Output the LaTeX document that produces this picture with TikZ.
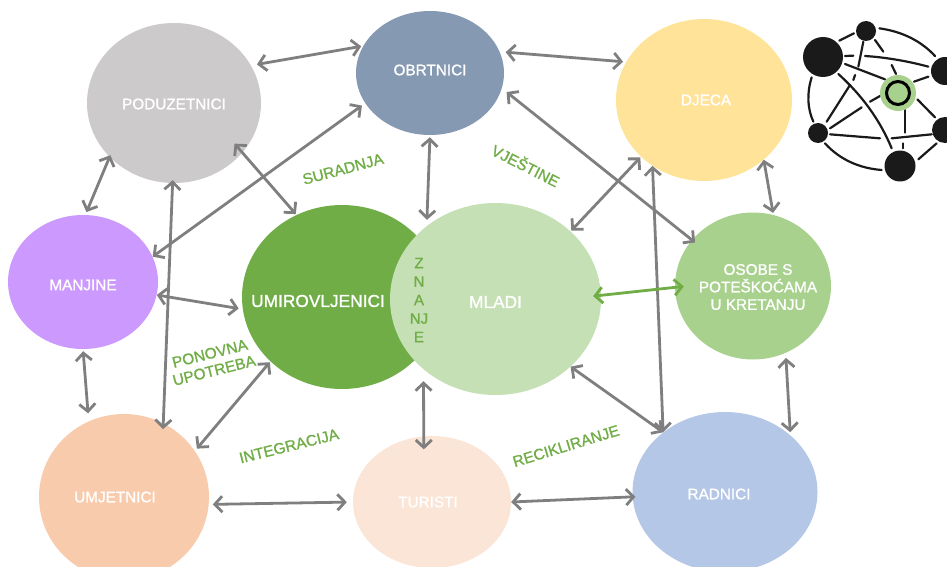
\documentclass[tikz,border=0pt]{standalone}
\usepackage{fontspec}
\setmainfont{Liberation Sans}
\newfontfamily\boxfont[FakeBold=1.2]{Liberation Sans}
\usetikzlibrary{shapes.geometric,arrows.meta}

\definecolor{linkgray}{HTML}{7F7F7F}
\definecolor{labelgreen}{HTML}{70AD47}
\definecolor{icondark}{HTML}{1A1A1A}

\tikzset{
  bubble/.style={ellipse, inner sep=0pt},
  biglabel/.style={text=white, font=\boxfont\fontsize{17.3}{20}\selectfont},
  smalllabel/.style={text=white, font=\boxfont\fontsize{15.3}{17.5}\selectfont, align=center},
  link/.style={<->, >={Straight Barb[length=7.5pt,width=16pt]}, draw=linkgray, line width=2.8pt, shorten <=2pt, shorten >=2pt},
  theme/.style={text=labelgreen, font=\boxfont\fontsize{15.4}{17.5}\selectfont, align=center, inner sep=0pt},
  iconline/.style={draw=icondark, line width=2.2pt, line cap=round},
  icondot/.style={circle, fill=icondark, inner sep=0pt}
}

\begin{document}
\begin{tikzpicture}[x=1pt, y=-1pt]
  \useasboundingbox (0, 0) rectangle (947, 567);

  % the people
  \node [bubble, fill={rgb,255:red,204;green,202;blue,203}, minimum width=174pt, minimum height=160pt, label={[smalllabel, yshift=-1pt]center:PODUZETNICI}] (poduzetnici) at (174, 103) {};
  \node [bubble, fill={rgb,255:red,133;green,153;blue,178}, minimum width=148pt, minimum height=124pt, label={[smalllabel, yshift=3pt]center:OBRTNICI}] (obrtnici) at (430, 73) {};
  \node [bubble, fill={rgb,255:red,255;green,227;blue,153}, minimum width=176pt, minimum height=162pt, label={[smalllabel, xshift=2pt]center:DJECA}] (djeca) at (704, 100) {};
  \node [bubble, fill={rgb,255:red,204;green,153;blue,255}, minimum width=150pt, minimum height=134pt, label={[smalllabel, yshift=-3pt]center:MANJINE}] (manjine) at (83, 282) {};
  \node [bubble, fill=labelgreen, minimum width=200pt, minimum height=184pt, label={[biglabel, xshift=-24pt, yshift=-4pt]center:UMIROVLJENICI}] (umirovljenici) at (342, 297) {};
  \node [bubble, fill={rgb,255:red,197;green,224;blue,180}, minimum width=211pt, minimum height=192pt, label={[biglabel, yshift=-3pt]center:MLADI}] (mladi) at (495.5, 299) {};
  \node [bubble, fill={rgb,255:red,169;green,209;blue,142}, minimum width=156pt, minimum height=147pt, label={[smalllabel, xshift=5pt, yshift=-1pt]center:OSOBE S\\POTEŠKOĆAMA\\U KRETANJU}] (osobe) at (753, 286) {};
  \node [bubble, fill={rgb,255:red,248;green,203;blue,173}, minimum width=170pt, minimum height=166pt, label={[smalllabel, xshift=-9pt]center:UMJETNICI}] (umjetnici) at (124, 497) {};
  \node [bubble, fill={rgb,255:red,251;green,229;blue,214}, minimum width=158pt, minimum height=132pt, label={[smalllabel, xshift=-4pt]center:TURISTI}] (turisti) at (432, 502) {};
  \node [bubble, fill={rgb,255:red,180;green,199;blue,231}, minimum width=185pt, minimum height=160pt, label={[smalllabel, xshift=-6pt, yshift=-2pt]center:RADNICI}] (radnici) at (725, 492) {};

  % what they share
  \node [theme, rotate=15] (suradnja) at (343, 169) {SURADNJA};
  \node [theme, rotate=-27] (vjestine) at (526, 165) {VJEŠTINE};
  \node [theme, rotate=14] (upotreba) at (212, 362) {PONOVNA\\UPOTREBA};
  \node [theme, rotate=14] (integracija) at (289, 446) {INTEGRACIJA};
  \node [theme, rotate=17] (recikliranje) at (566, 446) {RECIKLIRANJE};
  \node [theme, font=\boxfont\fontsize{15}{18.5}\selectfont] (znanje) at (419, 300) {Z\\N\\A\\NJ\\E};

  % links
  \draw [link, shorten <=6pt] (poduzetnici.26.6) -- (obrtnici.158.9);
  \draw [link, shorten <=6pt, shorten >=3pt] (obrtnici.17.7) -- (djeca.154.9);
  \draw [link, shorten <=-2pt, shorten >=3pt] (poduzetnici.220.5) -- (manjine.88.4);
  \draw [link, shorten >=8pt] (manjine.-90) -- (umjetnici.115.5);
  \draw [link, shorten <=-3pt, shorten >=-6pt] (poduzetnici.269) -- (umjetnici.62.5);
  \draw [link, shorten <=-12pt, shorten >=1pt] (poduzetnici.-36.5) -- (umirovljenici.119.8);
  \draw [link, shorten <=4pt, shorten >=0pt] (obrtnici.205) -- (manjine.20.6);
  \draw [link, shorten <=0pt, shorten >=4pt] (manjine.-10.2) -- (umirovljenici.187.2);
  \draw [link, shorten >=0pt] (obrtnici.-90) -- ([shift={(-3, -3.7)}]mladi.131);
  \draw [link, shorten <=1pt, shorten >=1pt] (djeca.222.2) -- (mladi.42.4);
  \draw [link, shorten <=0pt] (djeca.-45) -- (osobe.74.7);
  \draw [link, shorten <=0pt, shorten >=0pt] (djeca.232.4) -- (radnici.136.9);
  \draw [link, shorten <=6pt, shorten >=-4pt] (obrtnici.-12.4) -- (osobe.143.4);
  \draw [link, draw=labelgreen, shorten <=-8pt, shorten >=-9pt] (mladi.2.9) -- (osobe.181.7);
  \draw [link, shorten <=5pt, shorten >=3pt] (osobe.-64.7) -- (radnici.41.4);
  \draw [link, shorten <=0pt, shorten >=0pt] (mladi.-42.8) -- (radnici.136.4);
  \draw [link, shorten <=1pt, shorten >=3pt] (umirovljenici.222.9) -- (umjetnici.33.7);
  \draw [link, shorten <=0pt, shorten >=0pt] ([shift={(-6.4, 6.8)}]mladi.229.9) -- ([shift={(2.2, 13)}]turisti.99.8);
  \draw [link, shorten <=4pt, shorten >=6pt] (umjetnici.-5.1) -- (turisti.180.7);
  \draw [link, shorten <=0pt, shorten >=-3pt] (turisti.0.7) -- (radnici.183.9);

  % network icon
  \begin{scope}[shift={(790, 0)}, scale=1/3]
    \draw [iconline] (148, 122) -- (192, 100);
    \draw [iconline] (268, 85) .. controls (340, 95) and (395, 125) .. (435, 168);
    \draw [iconline] (165, 168) -- (190, 167);
    \draw [iconline] (225, 168) .. controls (290, 172) and (360, 185) .. (415, 200);
    \draw [iconline] (220, 125) -- (205, 200);
    \draw [iconline] (195, 225) -- (190, 240);
    \draw [iconline] (180, 255) -- (110, 365);
    \draw [iconline] (255, 120) -- (280, 155);
    \draw [iconline] (305, 195) -- (318, 222);
    \draw [iconline] (165, 192) -- (285, 238);
    \draw [iconline] (145, 222) .. controls (215, 285) and (270, 360) .. (305, 445);
    \draw [iconline] (65, 232) .. controls (50, 280) and (52, 325) .. (70, 365);
    \draw [iconline] (372, 245) -- (415, 230);
    \draw [iconline] (270, 288) -- (240, 305);
    \draw [iconline] (215, 322) -- (120, 385);
    \draw [iconline] (382, 298) -- (435, 352);
    \draw [iconline] (345, 330) -- (345, 398);
    \draw [iconline] (340, 430) -- (340, 445);
    \draw [iconline] (120, 403) -- (270, 415);
    \draw [iconline] (305, 415) -- (425, 403);
    \draw [iconline] (105, 430) .. controls (150, 480) and (210, 505) .. (275, 510);
    \draw [iconline] (385, 478) -- (440, 430);
  \end{scope}
  \node [icondot, minimum size=40pt] (iconbig) at (823, 57) {};
  \node [icondot, minimum size=20pt] (icontop) at (866, 31) {};
  \node [icondot, minimum size=28pt] (iconupper) at (945, 71) {};
  \node [icondot, minimum size=26pt] (iconlower) at (945, 130) {};
  \node [icondot, minimum size=20pt] (iconleft) at (818, 133) {};
  \node [icondot, minimum size=31pt] (iconbottom) at (900, 166) {};
  \node [circle, fill={rgb,255:red,169;green,209;blue,142}, inner sep=0pt, minimum size=36pt] (iconhalo) at (898, 93) {};
  \node [circle, draw=black, line width=3pt, fill={rgb,255:red,169;green,209;blue,142}, inner sep=0pt, minimum size=23pt] (iconring) at (898, 93) {};
\end{tikzpicture}
\end{document}
